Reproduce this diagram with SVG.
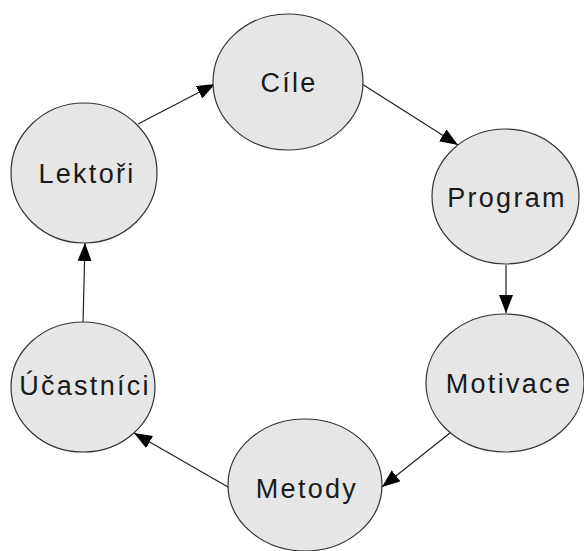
<svg xmlns="http://www.w3.org/2000/svg" width="584" height="551" viewBox="0 0 584 551">
<style>
.n{fill:#e6e6e6;stroke:#333;stroke-width:1.2}
.t{font-family:"Liberation Sans",Arial,sans-serif;font-size:27px;fill:#1a1a1a;text-anchor:middle;letter-spacing:2.3px}
.c{stroke:#222;stroke-width:1.2;fill:none;marker-end:url(#ah)}
</style>
<defs>
<marker id="ah" markerWidth="18" markerHeight="14" refX="18" refY="7" orient="auto" markerUnits="userSpaceOnUse">
<path d="M0,0 L18,7 L0,14 Z" fill="#000"/>
</marker>
</defs>
<rect width="584" height="551" fill="#fff"/>
<g id="connectors">
<line class="c" x1="138" y1="124" x2="215" y2="84"/>
<line class="c" x1="362" y1="84" x2="458" y2="145"/>
<line class="c" x1="506" y1="265" x2="506" y2="313"/>
<line class="c" x1="450" y1="433" x2="382" y2="487"/>
<line class="c" x1="228" y1="487" x2="134" y2="433"/>
<line class="c" x1="83" y1="324" x2="85" y2="243"/>
</g>
<g id="cile"><ellipse class="n" cx="288" cy="82" rx="75" ry="68"/><text class="t" x="289" y="92">Cíle</text></g>
<g id="program"><ellipse class="n" cx="505.5" cy="196.5" rx="73.5" ry="67.5"/><text class="t" x="507" y="207">Program</text></g>
<g id="motivace"><ellipse class="n" cx="505" cy="383" rx="79" ry="69"/><text class="t" x="509" y="393">Motivace</text></g>
<g id="metody"><ellipse class="n" cx="305" cy="485" rx="77" ry="66"/><text class="t" x="307" y="498">Metody</text></g>
<g id="ucastnici"><ellipse class="n" cx="83" cy="387" rx="72" ry="65"/><text class="t" x="85" y="395">Účastníci</text></g>
<g id="lektori"><ellipse class="n" cx="84" cy="173" rx="73" ry="70"/><text class="t" x="87" y="183">Lektoři</text></g>
</svg>
